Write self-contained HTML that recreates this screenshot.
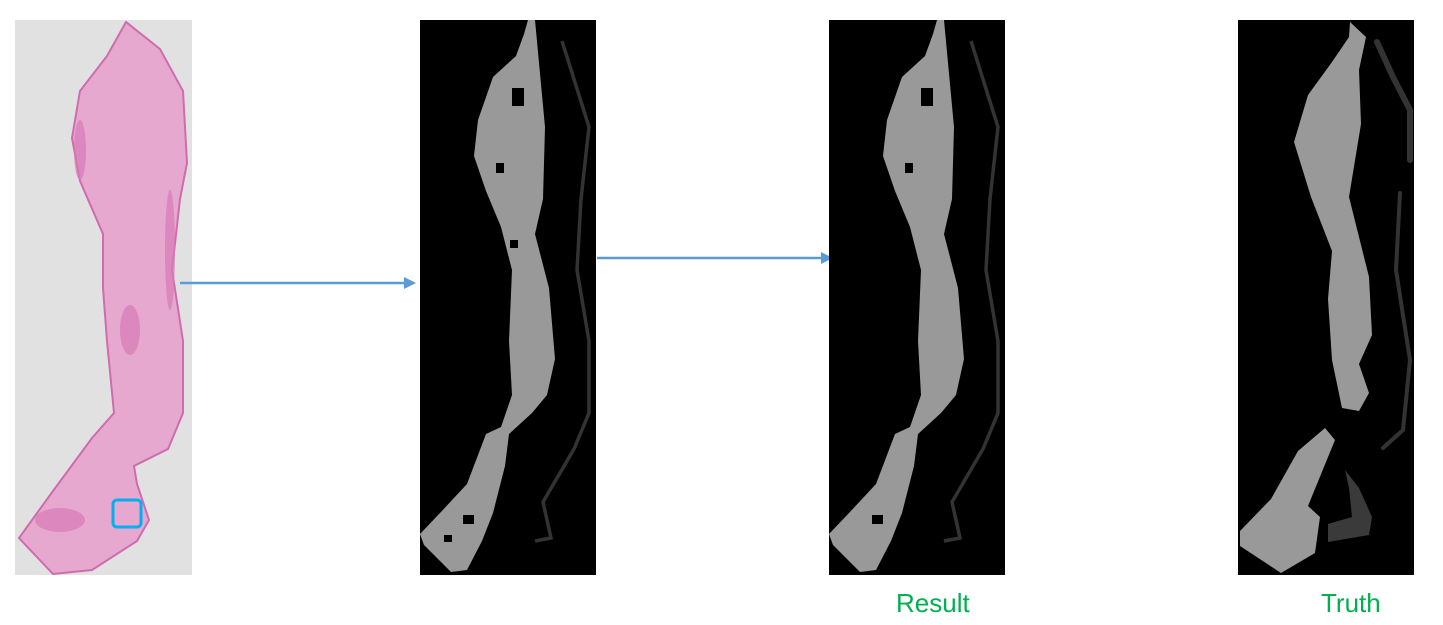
<!DOCTYPE html>
<html><head><meta charset="utf-8"><style>
html,body{margin:0;padding:0;background:#fff;}
svg{display:block;}
text{font-family:"Liberation Sans",sans-serif;}
</style></head><body>
<svg width="1443" height="625" viewBox="0 0 1443 625" xmlns="http://www.w3.org/2000/svg">
<defs>
<marker id="ah" markerWidth="12" markerHeight="12" refX="10" refY="6" orient="auto" markerUnits="userSpaceOnUse">
<path d="M0,0 L12,6 L0,12 z" fill="#5b9bd5"/>
</marker>
</defs>

<g>
<rect x="15" y="20" width="177" height="555" fill="#e1e1e1"/>
<polygon fill="#e6a8cf" stroke="#cf6cae" stroke-width="2"
points="126,22 160,49 183,91 187,163 180,199 172,270 183,341 183,413 168,449 134,466 137,484 149,520 137,541 92,570 53,574 19,538 53,491 92,438 114,413 107,341 103,288 103,234 80,181 72,138 80,91 107,56"/>
<g fill="#d77bb6" opacity="0.7">
<ellipse cx="80" cy="150" rx="6" ry="30"/>
<ellipse cx="130" cy="330" rx="10" ry="25"/>
<ellipse cx="60" cy="520" rx="25" ry="12"/>
<ellipse cx="170" cy="250" rx="5" ry="60"/>
</g>
<rect x="113" y="500" width="28" height="27" rx="4" fill="none" stroke="#00b0f0" stroke-width="3"/>
</g>

<line x1="180" y1="283" x2="414" y2="283" stroke="#5b9bd5" stroke-width="2.5" marker-end="url(#ah)"/>
<line x1="597" y1="258" x2="831" y2="258" stroke="#5b9bd5" stroke-width="2.5" marker-end="url(#ah)"/>

<g>
<rect x="420" y="20" width="176" height="555" fill="#000"/>
<polygon fill="#999"
points="528,20 535,20 545,127 543,199 535,234 549,288 555,359 547,395 532,413 509,434 505,466 493,513 482,541 467,570 451,572 424,545 420,534 440,513 467,484 486,434 501,427 512,395 509,341 512,270 501,227 486,191 474,156 478,120 493,77 516,56 524,34"/>
<rect x="512" y="88" width="12" height="18" fill="#000"/>
<rect x="496" y="163" width="8" height="10" fill="#000"/>
<rect x="510" y="240" width="8" height="8" fill="#000"/>
<rect x="463" y="515" width="11" height="9" fill="#000"/>
<rect x="444" y="535" width="8" height="7" fill="#000"/>
<polyline fill="none" stroke="#333" stroke-width="3.5"
points="562,41 589,127 581,199 577,270 589,341 589,413 574,449 543,502 551,538 535,541"/>
</g>

<g>
<rect x="829" y="20" width="176" height="555" fill="#000"/>
<g transform="translate(409,0)">
<polygon fill="#999"
points="528,20 535,20 545,127 543,199 535,234 549,288 555,359 547,395 532,413 509,434 505,466 493,513 482,541 467,570 451,572 424,545 420,534 440,513 467,484 486,434 501,427 512,395 509,341 512,270 501,227 486,191 474,156 478,120 493,77 516,56 524,34"/>
<rect x="512" y="88" width="12" height="18" fill="#000"/>
<rect x="496" y="163" width="8" height="10" fill="#000"/>
<rect x="463" y="515" width="11" height="9" fill="#000"/>
<polyline fill="none" stroke="#333" stroke-width="3.5"
points="562,41 589,127 581,199 577,270 589,341 589,413 574,449 543,502 551,538 535,541"/>
</g>
</g>

<g>
<rect x="1238" y="20" width="176" height="555" fill="#000"/>
<polygon fill="#999"
points="1350,22 1366,37 1359,70 1361,124 1349,197 1369,277 1372,335 1359,364 1369,393 1359,411 1342,408 1332,360 1328,299 1332,251 1311,197 1294,142 1308,95 1332,62 1349,37"/>
<polygon fill="#999"
points="1325,428 1335,440 1308,506 1320,517 1315,553 1281,573 1240,546 1240,531 1271,499 1298,451"/>
<polyline fill="none" stroke="#333" stroke-width="6" stroke-linecap="round" points="1377,42 1393,77 1410,110 1410,160"/>
<polyline fill="none" stroke="#333" stroke-width="4" stroke-linecap="round" points="1400,193 1396,270 1410,360 1403,430 1383,448"/>
<polygon fill="#3a3a3a" points="1345,470 1359,488 1372,517 1369,535 1328,542 1328,524 1352,517 1349,488"/>
</g>

<text x="896" y="612" font-size="26" fill="#00b050">Result</text>
<text x="1321" y="612" font-size="26" fill="#00b050">Truth</text>
</svg>
</body></html>
